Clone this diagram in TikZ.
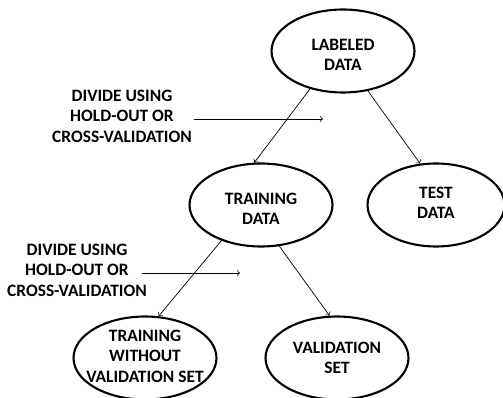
\documentclass[tikz,border=0pt]{standalone}
\usepackage{fontspec}
\setmainfont{Carlito}
\usetikzlibrary{shapes.geometric}
\tikzset{
    blob/.style={draw, very thick, ellipse, inner sep=0pt, minimum width=2.86cm, minimum height=1.66cm},
    blobtext/.style={align=center, inner sep=0pt},
    divtext/.style={align=center, inner sep=1pt},
}
\begin{document}
\begin{tikzpicture}[x=0.02cm, y=-0.02cm, >=to, every node/.style={font=\bfseries\fontsize{9.9}{11.6}\selectfont}]
        \useasboundingbox (0,0) rectangle (503,398);
        \node[blob] (labeled) at (343,51) {};
        \node[blob] (training) at (261,205) {};
        \node[blob, minimum width=2.74cm] (test) at (436,205) {};
        \node[blob] (trainwo) at (145,358) {};
        \node[blob] (valid) at (337,358) {};
        \node[blobtext] at (343,55) {LABELED\\DATA};
        \node[blobtext] at (261,209) {TRAINING\\DATA};
        \node[blobtext] at (436,203) {TEST\\DATA};
        \node[blobtext] at (145,356) {TRAINING\\WITHOUT\\VALIDATION SET};
        \node[blobtext] at (337,358) {VALIDATION\\SET};
        \node[divtext] (divide1) at (122,116) {DIVIDE USING\\HOLD-OUT OR\\CROSS-VALIDATION};
        \node[divtext] (divide2) at (77,270) {DIVIDE USING\\HOLD-OUT OR\\CROSS-VALIDATION};
        \coordinate (tip1) at (323,119);
        \coordinate (tip2) at (240,273);
        \draw[->] (labeled.229) -- (training.99);
        \draw[->] (labeled.302) -- (test.111);
        \draw[->] (training.222) -- (trainwo.72);
        \draw[->] (training.294) -- (valid.100);
        \draw[->] (divide1.east |- tip1) -- (tip1);
        \draw[->] ([xshift=-0.14cm]divide2.east |- tip2) -- (tip2);
    \end{tikzpicture}
\end{document}
